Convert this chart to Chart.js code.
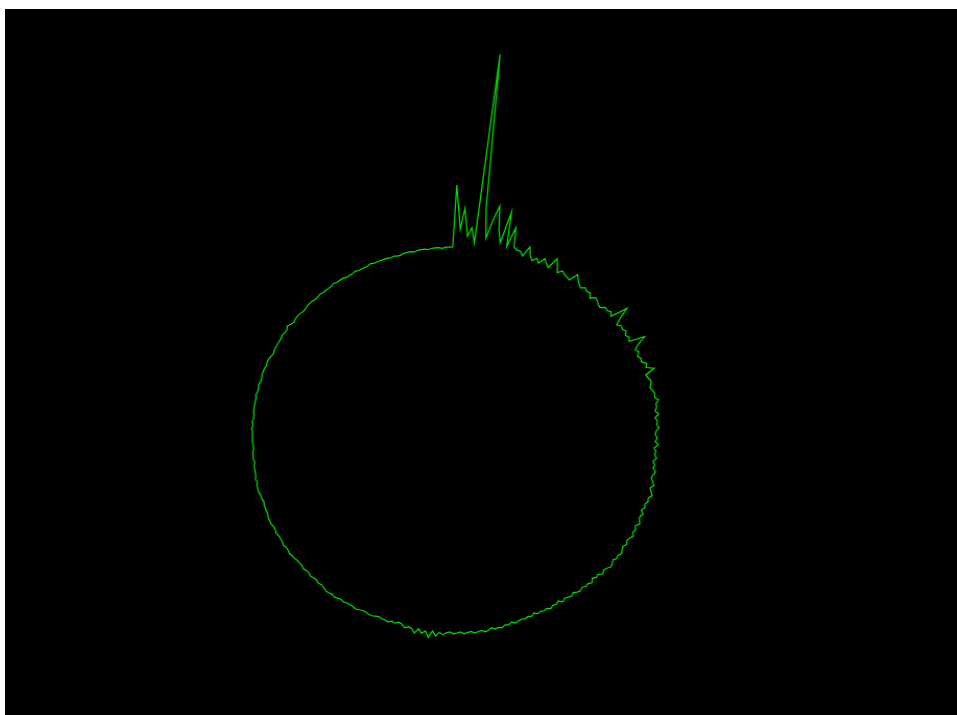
<!DOCTYPE html>
<html>
<head>
<meta charset="utf-8">
<title>Circular spectrum</title>
<script src="https://cdn.jsdelivr.net/npm/chart.js@4.4.1/dist/chart.umd.min.js"></script>
<style>
  html, body { margin: 0; padding: 0; background: #fff; }
  #spectrum { position: absolute; left: 5px; top: 9px; background: #000; }
</style>
</head>
<body>
<!-- drawn at 912 wide and shown 952 wide: the original trace is a little wider than tall -->
<canvas id="spectrum" width="912" height="706" style="width:952px;height:706px"></canvas>
<script>
'use strict';

// Radius of the trace per bin (1 bin = 1 degree, clockwise from the top)
// 0°-89°: low bins, where the big peaks are
const radiusQ1 = [
  255, 211, 232, 204, 213, 198, 388, 232, 204, 222, 238, 214, 202, 234, 200, 220, 201, 199, 199, 195,
  206, 198, 194, 198, 194, 201, 197, 194, 206, 200, 194, 198, 196, 195, 194, 203, 199, 196, 194, 197,
  195, 196, 192, 196, 195, 193, 192, 196, 195, 197, 194, 211, 200, 193, 196, 195, 197, 194, 196, 194,
  209, 200, 195, 197, 194, 196, 195, 199, 197, 204, 194, 195, 197, 196, 194, 196, 197, 196, 199, 196,
  196, 194, 197, 193, 195, 194, 196, 193, 192, 194
];
// 90°-179°
const radiusQ2 = [
  192, 195, 191, 193, 192, 194, 191, 193, 192, 195,
  193, 192, 194, 196, 193, 195, 197, 194, 195, 193, 194, 192, 195, 193, 194, 196, 193, 195, 194, 196,
  194, 193, 195, 193, 194, 196, 194, 195, 193, 195, 196, 194, 193, 195, 192, 193, 191, 194, 192, 193,
  191, 193, 192, 190, 192, 191, 190, 192, 189, 191, 190, 192, 190, 191, 190, 191, 189, 191, 190, 191,
  190, 191, 192, 190, 192, 191, 193, 192, 193, 191, 193, 194, 192, 193, 194, 192, 193, 194, 192, 193
];
// 180°-269°
const radiusQ3 = [
  194, 192, 193, 195, 193, 197, 192, 199, 193, 196, 192, 197, 193, 192, 194, 191, 190, 192, 191, 193,
  192, 192, 191, 192, 193, 193, 192, 192, 193, 194, 193, 193, 193, 194, 193, 194, 195, 194, 195, 195,
  194, 193, 194, 193, 193, 194, 193, 193, 194, 193, 193, 193, 194, 194, 195, 194, 194, 195, 194, 194,
  194, 195, 194, 194, 195, 195, 195, 194, 194, 194, 194, 193, 194, 194, 195, 195, 195, 194, 195, 194,
  194, 194, 194, 193, 194, 194, 194, 193, 193, 194
];
// 270°-359°
const radiusQ4 = [
  194, 194, 194, 195, 194, 195, 194, 194, 195, 195,
  195, 195, 195, 196, 195, 195, 196, 195, 195, 196, 196, 196, 195, 196, 196, 195, 194, 195, 195, 195,
  195, 195, 196, 195, 195, 197, 195, 194, 195, 195, 195, 194, 194, 195, 195, 195, 194, 194, 195, 194,
  194, 194, 194, 195, 194, 194, 194, 193, 193, 193, 194, 193, 193, 193, 193, 194, 193, 193, 193, 193,
  193, 192, 193, 192, 192, 193, 193, 193, 192, 193, 193, 193, 192, 193, 193, 193, 192, 193, 193, 193
];

const radii = [...radiusQ1, ...radiusQ2, ...radiusQ3, ...radiusQ4];
const bins  = radii.map((_, i) => String(i));

const LINE_COLOR = 'rgb(0, 225, 0)';

const canvas = document.getElementById('spectrum');

new Chart(canvas.getContext('2d'), {
  type: 'radar',
  data: {
    labels: bins,
    datasets: [{
      data: radii,
      borderColor: LINE_COLOR,
      borderWidth: 1.2,
      pointRadius: 0,
      pointHitRadius: 0,
      fill: false,
      tension: 0,
      clip: false,
    }]
  },
  options: {
    responsive: false,
    animation: false,
    layout: { padding: { left: 181, right: 231, top: 181, bottom: 25 } },
    plugins: {
      legend: { display: false },
      tooltip: { enabled: false },
    },
    scales: {
      r: {
        min: 0,
        max: 250,
        startAngle: 0.4,
        ticks: { display: false },
        grid: { display: false },
        angleLines: { display: false },
        pointLabels: { display: false },
      }
    }
  }
});
</script>
</body>
</html>
